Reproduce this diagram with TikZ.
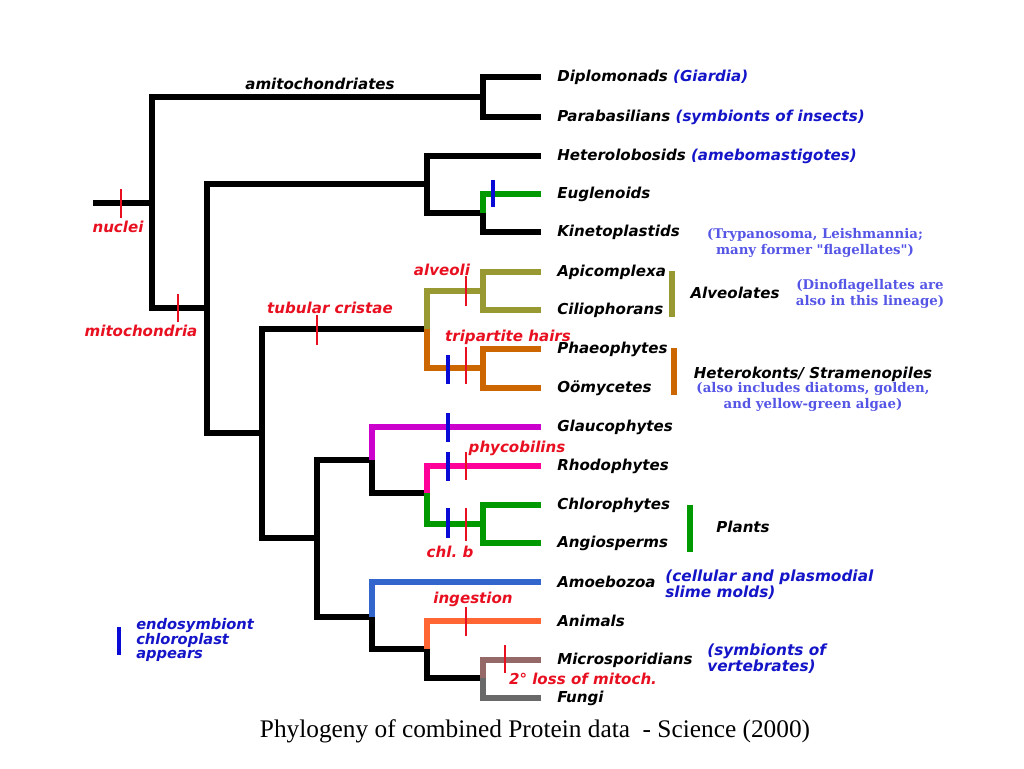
\documentclass[tikz,border=0pt]{standalone}
\usepackage{fontspec}
\usetikzlibrary{positioning}
\setmainfont{Liberation Serif}
\newfontfamily\labfont{DejaVu Sans}
\newfontfamily\serfont{DejaVu Serif}

\definecolor{redmk}{RGB}{232,16,32}
\definecolor{bluemk}{RGB}{10,10,215}
\definecolor{bluetx}{RGB}{20,20,200}
\definecolor{bluesf}{RGB}{85,85,230}
\definecolor{olivebr}{RGB}{153,153,51}
\definecolor{strambr}{RGB}{204,102,0}
\definecolor{glaubr}{RGB}{204,0,204}
\definecolor{rhobr}{RGB}{255,0,153}
\definecolor{greenbr}{RGB}{0,153,0}
\definecolor{amoebr}{RGB}{51,102,204}
\definecolor{animbr}{RGB}{255,102,51}
\definecolor{microbr}{RGB}{150,105,105}
\definecolor{fungibr}{RGB}{105,105,105}

\begin{document}
\frenchspacing
\begin{tikzpicture}[x=0.75pt,y=0.75pt,yscale=-1,xscale=1,
  br/.style={line width=4.8pt},
  tk/.style={line width=2pt,redmk},
  btk/.style={line width=2.3pt,bluemk},
  bar/.style={line width=5pt},
  lab/.style={inner sep=0pt,font=\labfont\bfseries\itshape\fontsize{11.3pt}{11.5pt}\selectfont},
  rlab/.style={lab,text=redmk},
  snote/.style={inner sep=0pt,align=center,text=bluesf,font=\serfont\bfseries\fontsize{10pt}{12pt}\selectfont},
  bnote/.style={lab,text=bluetx,align=left,font=\labfont\bfseries\itshape\fontsize{11.5pt}{10.5pt}\selectfont}]
	\useasboundingbox (0,0) rectangle (1024,768);

	% Internal nodes
	\coordinate (root) at (93,203);
	\coordinate (nA) at (152,203);
	\coordinate (nAmi) at (483,97);
	\coordinate (nB) at (207,308);
	\coordinate (nHK) at (427,184);
	\coordinate (nEK) at (483,213);
	\coordinate (nC) at (262,433);
	\coordinate (nSA) at (427,329);
	\coordinate (nAlv) at (483,291);
	\coordinate (nStr) at (483,368);
	\coordinate (nE) at (317,538);
	\coordinate (nPl) at (372,460);
	\coordinate (nRG) at (427,493);
	\coordinate (nGr) at (483,524);
	\coordinate (nAn) at (372,617);
	\coordinate (nOp) at (427,649);
	\coordinate (nMF) at (483,678);

	% Leaves
	\coordinate (dip) at (541,77);
	\coordinate (para) at (541,117);
	\coordinate (het) at (541,156);
	\coordinate (eug) at (541,194);
	\coordinate (kin) at (541,232);
	\coordinate (apic) at (541,272);
	\coordinate (cil) at (541,310);
	\coordinate (phae) at (541,349);
	\coordinate (oom) at (541,388);
	\coordinate (glau) at (541,427);
	\coordinate (rho) at (541,466);
	\coordinate (chl) at (541,505);
	\coordinate (ang) at (541,543);
	\coordinate (amoe) at (541,582);
	\coordinate (anim) at (541,621);
	\coordinate (micro) at (541,660);
	\coordinate (fungi) at (541,698);

	% Connection
	\draw[br] (root) -- (nA);
	\draw[br] (nA) |- (nAmi);
	\draw[br] (nA) |- (nB);
	\draw[br] (nAmi) |- (dip);
	\draw[br] (nAmi) |- (para);
	\draw[br] (nB) |- (nHK);
	\draw[br] (nB) |- (nC);
	\draw[br] (nHK) |- (het);
	\draw[br] (nHK) |- (nEK);
	\draw[br,greenbr] (nEK) |- (eug);
	\draw[br] (nEK) |- (kin);
	\draw[br] (nC) |- (nSA);
	\draw[br] (nC) |- (nE);
	\draw[br,olivebr] (nSA) |- (nAlv);
	\draw[br,strambr] (nSA) |- (nStr);
	\draw[br,olivebr] (nAlv) |- (apic);
	\draw[br,olivebr] (nAlv) |- (cil);
	\draw[br,strambr] (nStr) |- (phae);
	\draw[br,strambr] (nStr) |- (oom);
	\draw[br] (nE) |- (nPl);
	\draw[br] (nE) |- (nAn);
	\draw[br,glaubr] (nPl) |- (glau);
	\draw[br] (nPl) |- (nRG);
	\draw[br,rhobr] (nRG) |- (rho);
	\draw[br,greenbr] (nRG) |- (nGr);
	\draw[br,greenbr] (nGr) |- (chl);
	\draw[br,greenbr] (nGr) |- (ang);
	\draw[br,amoebr] (nAn) |- (amoe);
	\draw[br] (nAn) |- (nOp);
	\draw[br,animbr] (nOp) |- (anim);
	\draw[br] (nOp) |- (nMF);
	\draw[br,microbr] (nMF) |- (micro);
	\draw[br,fungibr] (nMF) |- (fungi);

	% Marks
	\draw[tk] (121,189) -- (121,218);
	\draw[tk] (178,294) -- (178,322);
	\draw[btk] (493,180) -- (493,207);
	\draw[tk] (317,315) -- (317,345);
	\draw[tk] (466,276) -- (466,306);
	\draw[btk] (448,355) -- (448,384);
	\draw[tk] (466,347) -- (466,384);
	\draw[btk] (448,413) -- (448,442);
	\draw[btk] (448,452) -- (448,481);
	\draw[tk] (466,452) -- (466,480);
	\draw[btk] (448,508) -- (448,538);
	\draw[tk] (466,508) -- (466,541);
	\draw[tk] (466,607) -- (466,636);
	\draw[tk] (505,645) -- (505,673);

	% Text Node
	\node[lab] (amitoL) at (320,84) {amitochondriates};
	\node[rlab] (nucL) at (118,227) {nuclei};
	\node[rlab] (mitoL) at (141,331) {mitochondria};
	\node[rlab] (tubL) at (330,308) {tubular cristae};
	\node[rlab] (alvL) at (442,270) {alveoli};
	\node[rlab] (triL) at (508,337) {tripartite hairs};
	\node[rlab] (phyL) at (517,448) {phycobilins};
	\node[rlab] (chlbL) at (450,552) {chl. b};
	\node[rlab] (ingL) at (473,599) {ingestion};
	\node[rlab] (lossL) at (583,679) {2° loss of mitoch.};

	% Text Node
	\node[lab,right=12pt of dip] (dipL) {Diplomonads \textcolor{bluetx}{(Giardia)}};
	\node[lab,right=12pt of para] (paraL) {Parabasilians \textcolor{bluetx}{(symbionts of insects)}};
	\node[lab,right=12pt of het] (hetL) {Heterolobosids \textcolor{bluetx}{(amebomastigotes)}};
	\node[lab,right=12pt of eug] (eugL) {Euglenoids};
	\node[lab,right=12pt of kin] (kinL) {Kinetoplastids};
	\node[lab,right=12pt of apic] (apicL) {Apicomplexa};
	\node[lab,right=12pt of cil] (cilL) {Ciliophorans};
	\node[lab,right=12pt of phae] (phaeL) {Phaeophytes};
	\node[lab,right=12pt of oom] (oomL) {Oömycetes};
	\node[lab,right=12pt of glau] (glauL) {Glaucophytes};
	\node[lab,right=12pt of rho] (rhoL) {Rhodophytes};
	\node[lab,right=12pt of chl] (chlL) {Chlorophytes};
	\node[lab,right=12pt of ang] (angL) {Angiosperms};
	\node[lab,right=12pt of amoe] (amoeL) {Amoebozoa};
	\node[lab,right=12pt of anim] (animL) {Animals};
	\node[lab,right=12pt of micro] (microL) {Microsporidians};
	\node[lab,right=12pt of fungi] (fungiL) {Fungi};

	% Text Node
	\node[snote] (kinN) at (815,243) {(Trypanosoma, Leishmannia;\\many former "flagellates")};
	\node[bnote,anchor=west] (amoeN) at (665,585) {(cellular and plasmodial\\slime molds)};
	\node[bnote,anchor=west] (microN) at (707,659) {(symbionts of\\vertebrates)};

	% Groups
	\draw[bar,olivebr] (672,271) -- (672,317);
	\node[lab] (alvG) at (735,293) {Alveolates};
	\node[snote] (alvN) at (870,294) {(Dinoflagellates are\\also in this lineage)};
	\draw[bar,strambr] (674,348) -- (674,395);
	\node[lab] (strG) at (813,374) {Heterokonts/ Stramenopiles};
	\node[snote,anchor=north] (strN) at (813,382) {(also includes diatoms, golden,\\and yellow-green algae)};
	\draw[bar,greenbr] (690,505) -- (690,552);
	\node[lab] (plG) at (743,527) {Plants};

	% Legend
	\draw[btk,line width=2.6pt] (119,627) -- (119,655);
	\node[bnote,anchor=west,font=\labfont\bfseries\itshape\fontsize{11pt}{10.5pt}\selectfont] (legN) at (136,640) {endosymbiont\\chloroplast\\appears};

	% Caption
	\node[font=\fontsize{19pt}{21pt}\selectfont] (cap) at (535,731) {Phylogeny of combined Protein data~ - Science (2000)};
\end{tikzpicture}
\end{document}
